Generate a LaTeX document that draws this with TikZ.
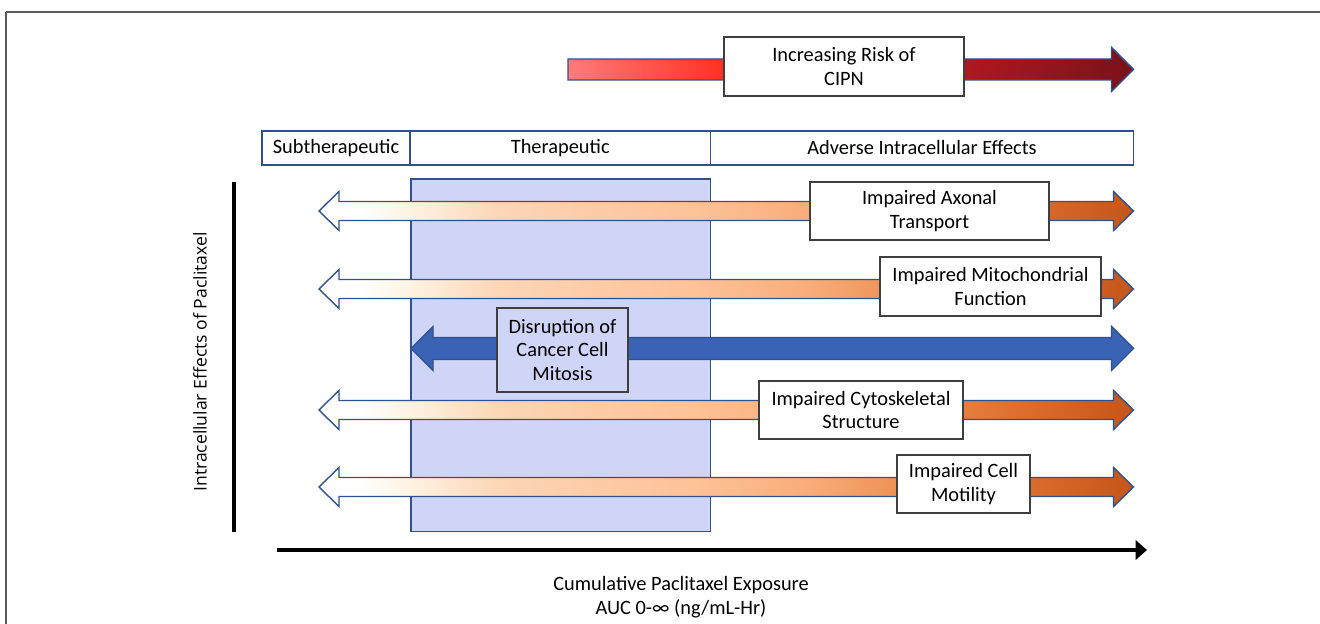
\documentclass[tikz,border=0pt]{standalone}
\usepackage{fontspec}
\setmainfont{Carlito}
\newfontfamily\axisfont{Open Sans}
\usepackage{tikz}
\usetikzlibrary{arrows.meta}
\definecolor{edgeblue}{HTML}{2F528F}
\definecolor{thershade}{HTML}{CFD5F7}
\definecolor{mitosisblue}{HTML}{3A63B6}
\definecolor{boxgray}{HTML}{3F3F3F}
\definecolor{framegray}{HTML}{5A5A5A}
\definecolor{effA}{HTML}{FFF6E6}
\definecolor{effB}{HTML}{FDD6B6}
\definecolor{effC}{HTML}{FDC298}
\definecolor{effD}{HTML}{F9AD7A}
\definecolor{effE}{HTML}{EA8A4C}
\definecolor{effF}{HTML}{DC6E2E}
\definecolor{effG}{HTML}{C4561A}
\definecolor{riskA}{HTML}{FF7B7B}
\definecolor{riskB}{HTML}{FF3020}
\definecolor{riskC}{HTML}{B01820}
\definecolor{riskD}{HTML}{78121A}
\pgfdeclarehorizontalshading{effectshade}{100bp}{color(0bp)=(white); color(27.5bp)=(white);
  color(30bp)=(effA); color(36bp)=(effB); color(48bp)=(effC); color(55bp)=(effD);
  color(62bp)=(effE); color(68bp)=(effF); color(75bp)=(effG); color(100bp)=(effG)}
\pgfdeclarehorizontalshading{riskshade}{100bp}{color(0bp)=(riskA); color(25bp)=(riskA);
  color(39bp)=(riskB); color(60bp)=(riskC); color(75bp)=(riskD); color(100bp)=(riskD)}
\tikzstyle{box}=[draw=boxgray, line width=0.8pt, fill=white, inner sep=0pt, align=center,
  font=\fontsize{11.6}{13.3}\selectfont]
\tikzstyle{band}=[box, draw=edgeblue]
\tikzstyle{effect}=[draw=edgeblue, line width=0.8pt, shade, shading=effectshade]
\tikzstyle{risk}=[draw=edgeblue, line width=0.8pt, shade, shading=riskshade]
\tikzstyle{mitosis}=[draw=edgeblue, line width=0.8pt, fill=mitosisblue]
\tikzstyle{axis}=[line width=2.3pt]
% #1 style, #2 y, #3 left tip, #4 right tip, #5 half shaft, #6 half head, #7 head length
\newcommand{\dblarrow}[7]{%
  \path[#1] (#3,#2) -- ({#3+#7},{#2-#6}) -- ({#3+#7},{#2-#5}) -- ({#4-#7},{#2-#5})
    -- ({#4-#7},{#2-#6}) -- (#4,#2) -- ({#4-#7},{#2+#6}) -- ({#4-#7},{#2+#5})
    -- ({#3+#7},{#2+#5}) -- ({#3+#7},{#2+#6}) -- cycle;}
\begin{document}
\begin{tikzpicture}[x=0.02cm, y=-0.02cm]
    \useasboundingbox (0,0) rectangle (1320,624);
    \draw[framegray, line width=0.6pt] (6,624) -- (6,12);
    \draw[framegray, line width=0.6pt] (6,12) -- (1320,12);
    \path[risk] (568,59) -- (1111.5,59) -- (1111.5,47.5) -- (1133.5,69.5) -- (1111.5,91.5)
        -- (1111.5,80) -- (568,80) -- cycle;
    \node[box, minimum width=4.8cm, minimum height=1.18cm] (risk) at (844,66.5) {Increasing Risk of\\CIPN};
    \node[band, minimum width=2.96cm, minimum height=0.68cm] (sub) at (336,148) {Subtherapeutic};
    \node[band, minimum width=6cm, minimum height=0.68cm] (ther) at (560.25,148) {Therapeutic};
    \node[band, minimum width=8.46cm, minimum height=0.68cm] (adv) at (922,148) {Adverse Intracellular Effects};
    \draw[edgeblue, fill=thershade, line width=0.8pt] (411,179) rectangle (710.5,531.5);
    \foreach \yy in {211,289,410,487}
        \dblarrow{effect}{\yy}{319}{1133.5}{9.5}{19.5}{20};
    \dblarrow{mitosis}{348.5}{411}{1133.5}{11}{22}{22}
    \node[box, minimum width=4.78cm, minimum height=1.16cm] (axonal) at (929.5,211) {Impaired Axonal\\Transport};
    \node[box, minimum width=4.42cm, minimum height=1.18cm] (mito) at (990.5,286.5) {Impaired Mitochondrial\\Function};
    \node[box, fill=thershade, minimum width=2.62cm, minimum height=1.68cm] (mitosis) at (562.5,350) {Disruption of\\Cancer Cell\\Mitosis};
    \node[box, minimum width=4.08cm, minimum height=1.16cm] (cyto) at (861,410) {Impaired Cytoskeletal\\Structure};
    \node[box, minimum width=2.66cm, minimum height=1.16cm] (motility) at (963.5,484) {Impaired Cell\\Motility};
    \coordinate (ytop) at (234,182);
    \coordinate (ybot) at (234,532);
    \coordinate (xstart) at (277,550);
    \coordinate (xend) at (1147,550);
    \draw[axis] (ybot) -- (ytop);
    \draw[axis, -{Triangle[length=6.5pt, width=11pt]}] (xstart) -- (xend);
    \node[rotate=90, font=\axisfont\fontsize{10}{12}\selectfont] (ylab) at (200,362) {Intracellular Effects of Paclitaxel};
    \node[align=center, font=\fontsize{11.6}{14}\selectfont] (xlab) at (681,597) {Cumulative Paclitaxel Exposure\\AUC 0-∞ (ng/mL-Hr)};
\end{tikzpicture}
\end{document}
